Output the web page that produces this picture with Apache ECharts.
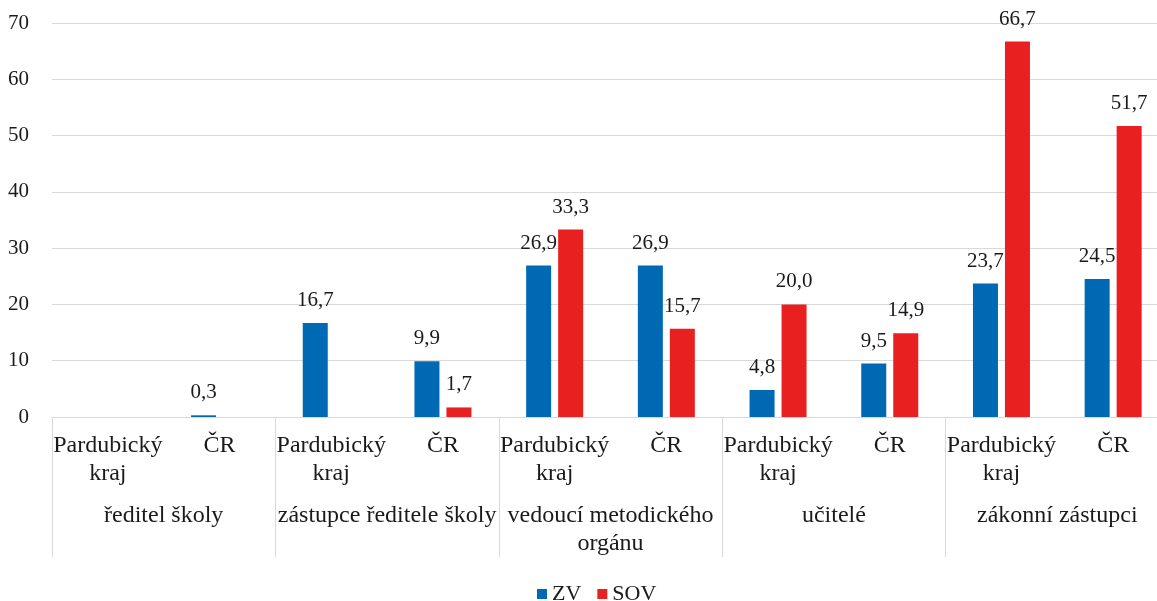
<!DOCTYPE html>
<html>
<head>
<meta charset="utf-8">
<script src="https://cdn.jsdelivr.net/npm/echarts@6/dist/echarts.min.js"></script>
<style>
  html, body { margin: 0; padding: 0; background: #fff; overflow: hidden; }
  /* the plot runs slightly past the right edge of the window */
  #chart { width: 1169px; height: 601px; }
</style>
</head>
<body>
<div id="chart"></div>
<script>
// Respondent groups (outer level) and regions (inner level)
const groups = ['ředitel školy', 'zástupce ředitele školy', 'vedoucí metodického\norgánu', 'učitelé', 'zákonní zástupci'];
const regions = ['Pardubický\nkraj', 'ČR'];
const seriesNames = ['ZV', 'SOV'];

// Values per inner category, in order: group1/Pardubický kraj, group1/ČR, group2/...
const zvValues  = [null, 0.3, 16.7, 9.9, 26.9, 26.9, 4.8, 9.5, 23.7, 24.5];
const sovValues = [null, null, null, 1.7, 33.3, 15.7, 20.0, 14.9, 66.7, 51.7];

const yTicks = { min: 0, max: 70, interval: 10 };

const categories = [];
groups.forEach(() => regions.forEach(r => categories.push(r)));

const FONT = '"Liberation Serif", "Times New Roman", serif';
const TEXT = '#1a1a1a';
const GRID_LINE = '#d9d9d9';
const colors = ['#0069B4', '#E8201F'];

const fmt = p => p.value.toFixed(1).replace('.', ',');

const chart = echarts.init(document.getElementById('chart'), null, { renderer: 'canvas' });

chart.setOption({
  animation: false,
  color: colors,
  grid: { left: 52, top: 23, right: 0, bottom: 184, containLabel: false },
  legend: {
    data: seriesNames,
    left: 532,
    top: 578,
    icon: 'rect',
    itemWidth: 10,
    itemHeight: 10,
    itemGap: 16,
    textStyle: { fontFamily: FONT, fontSize: 22, color: TEXT }
  },
  xAxis: [
    {
      type: 'category',
      data: categories,
      axisLine: { show: true, lineStyle: { color: GRID_LINE, width: 1 } },
      axisTick: { show: false },
      axisLabel: {
        interval: 0,
        margin: 15,
        fontFamily: FONT,
        fontSize: 24,
        lineHeight: 28,
        color: TEXT
      }
    },
    {
      type: 'category',
      data: groups,
      position: 'bottom',
      axisLine: { show: false },
      axisTick: { show: true, length: 140, lineStyle: { color: GRID_LINE, width: 1 } },
      axisLabel: {
        interval: 0,
        margin: 85,
        fontFamily: FONT,
        fontSize: 24,
        lineHeight: 28,
        color: TEXT
      }
    }
  ],
  yAxis: {
    type: 'value',
    min: yTicks.min,
    max: yTicks.max,
    interval: yTicks.interval,
    axisLine: { show: false },
    axisTick: { show: false },
    splitLine: { lineStyle: { color: GRID_LINE, width: 1 } },
    axisLabel: { margin: 23, fontFamily: FONT, fontSize: 21, color: TEXT }
  },
  series: [
    {
      name: seriesNames[0],
      type: 'bar',
      xAxisIndex: 0,
      data: zvValues,
      barWidth: 25,
      barGap: '28%',
      label: { show: true, position: 'top', distance: 12, formatter: fmt, fontFamily: FONT, fontSize: 21, color: TEXT }
    },
    {
      name: seriesNames[1],
      type: 'bar',
      xAxisIndex: 0,
      data: sovValues,
      barWidth: 25,
      barGap: '28%',
      label: { show: true, position: 'top', distance: 12, formatter: fmt, fontFamily: FONT, fontSize: 21, color: TEXT }
    }
  ]
});
</script>
</body>
</html>
